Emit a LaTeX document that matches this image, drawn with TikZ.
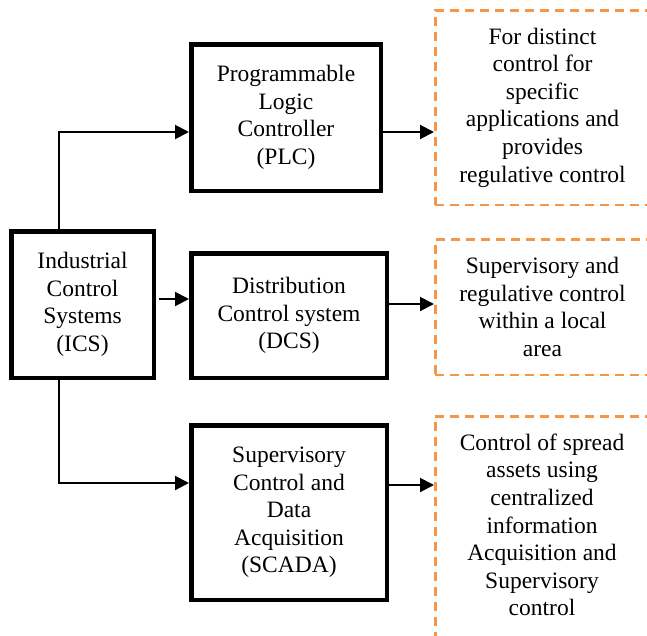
\documentclass[tikz,border=0pt]{standalone}
\usepackage{fontspec}
\setmainfont{Liberation Serif}
\usetikzlibrary{arrows.meta}
\definecolor{dashorange}{HTML}{F79646}
\begin{document}
\begin{tikzpicture}[x=1pt,y=-1pt,
  every node/.style={font=\fontsize{23.5}{27.6}\selectfont, align=center, inner sep=0pt},
  solidbox/.style={draw, line width=4.5pt},
  dashbox/.style={draw=dashorange, line width=2.5pt, dash pattern=on 9pt off 6pt},
  arr/.style={line width=2pt, -{Triangle[length=14pt,width=14pt]}}]
\useasboundingbox (0,0) rectangle (647,635);
\clip (0,0) rectangle (647,635);
% main boxes
\node[solidbox, minimum width=142.5pt, minimum height=146.5pt] (ics) at (82.5,304.5)
  {Industrial\\Control\\Systems\\(ICS)};
\node[solidbox, minimum width=189.5pt, minimum height=146.5pt] (plc) at (286,117.5)
  {Programmable\\Logic\\Controller\\(PLC)};
\node[solidbox, minimum width=195.5pt, minimum height=124.5pt] (dcs) at (289,315.5)
  {Distribution\\Control system\\(DCS)};
\node[solidbox, minimum width=195.5pt, minimum height=174.5pt] (scada) at (289,512.5)
  {Supervisory\\Control and\\Data\\Acquisition\\(SCADA)};
% dashed description boxes
\node[dashbox, minimum width=214.5pt, minimum height=194.5pt] (d1) at (542.5,107.5)
  {For distinct\\control for\\specific\\applications and\\provides\\regulative control};
\node[dashbox, minimum width=214.5pt, minimum height=135.5pt] (d2) at (542.5,307)
  {Supervisory and\\regulative control\\within a local\\area};
\node[dashbox, minimum width=214.5pt, minimum height=225pt] (d3) at (542.5,528.75) {};
\node (t3) at (542,525)
  {Control of spread\\assets using\\centralized\\information\\Acquisition and\\Supervisory\\control};
% connector rows
\coordinate (r1) at (59,132);
\coordinate (r2) at (0,299);
\coordinate (r2b) at (0,304);
\coordinate (r3) at (59,483);
\coordinate (r3b) at (0,485);
\draw[arr] (ics.north -| r1) |- (plc.west |- r1);
\draw[arr] ([xshift=3pt]ics.east |- r2) -- (dcs.west |- r2);
\draw[arr] (ics.south -| r3) |- (scada.west |- r3);
\draw[arr] (plc.east |- r1) -- (d1.west |- r1);
\draw[arr] (dcs.east |- r2b) -- (d2.west |- r2b);
\draw[arr] (scada.east |- r3b) -- (d3.west |- r3b);
\end{tikzpicture}
\end{document}
